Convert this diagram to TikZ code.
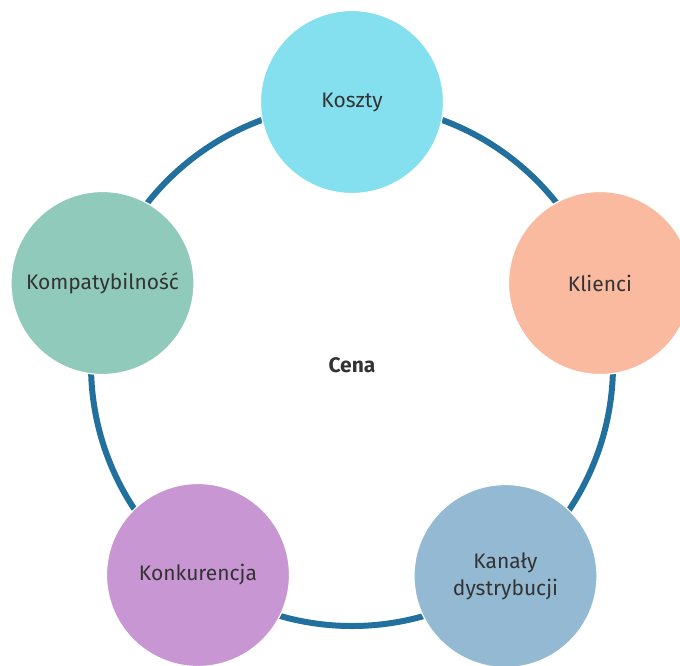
\documentclass[tikz,border=0pt]{standalone}
\usepackage{fontspec}
\setmainfont{Fira Sans}
\definecolor{ringc}{HTML}{21709E}
\definecolor{txt}{HTML}{333333}
\definecolor{ckoszty}{HTML}{84E0EE}
\definecolor{cklienci}{HTML}{F9BA9F}
\definecolor{ckanaly}{HTML}{94B9D2}
\definecolor{ckonk}{HTML}{C896D3}
\definecolor{ckompat}{HTML}{90CABB}
\begin{document}
\begin{tikzpicture}[x=1pt,y=-1pt,
  bubble/.style={circle,minimum size=183pt,inner sep=0pt,draw=white,line width=1.2pt,
    text=txt,font=\fontsize{21}{27}\selectfont,align=center}]
\clip (0,0) rectangle (680,665);
\fill[white] (0,0) rectangle (680,665);
\node[font=\fontsize{21}{27}\selectfont\bfseries,text=txt] (cena) at (352,365) {Cena};
\draw[ringc,line width=6pt] (cena.center) ++(0,0) circle[radius=261pt];
\node[bubble,fill=ckoszty] (koszty) at (352,102) {Koszty};
\node[bubble,fill=cklienci] (klienci) at (600,283) {Klienci};
\node[bubble,fill=ckanaly] (kanaly) at (505.5,576) {Kanały\\dystrybucji};
\node[bubble,fill=ckonk] (konk) at (198,575) {Konkurencja};
\node[bubble,fill=ckompat] (kompat) at (102.5,283) {Kompatybilność};
\end{tikzpicture}
\end{document}
